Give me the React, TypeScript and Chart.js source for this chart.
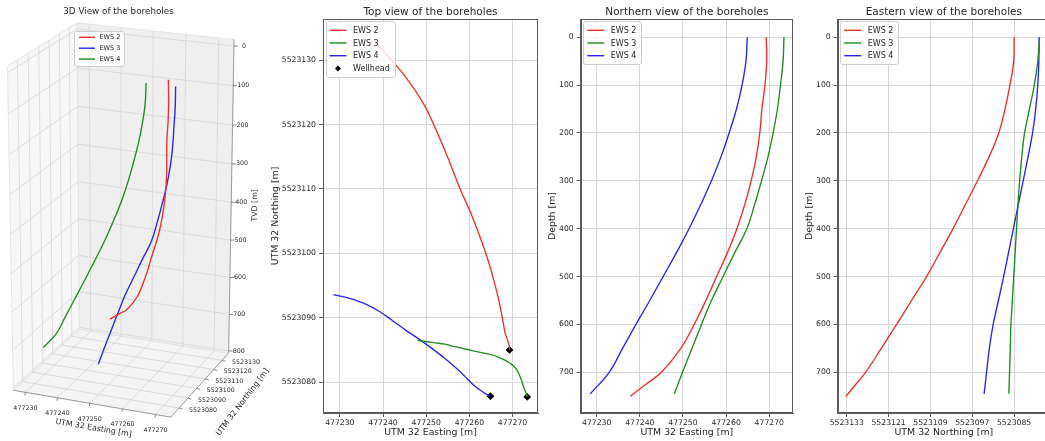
import React, { useEffect, useRef } from "react";
import { Chart, registerables } from "chart.js";

Chart.register(...registerables);

// ---------------- data ----------------
const wellNames = ["EWS 2", "EWS 3", "EWS 4"];

const ews2Depth = [0, 50, 100, 150, 200, 250, 300, 350, 400, 450, 500, 550, 600, 650, 700, 725, 750];
const ews2Easting = [477269.3, 477269.4, 477269.0, 477268.3, 477267.8, 477267.0, 477265.8, 477264.3, 477262.5, 477260.3, 477257.8, 477255.3, 477252.6, 477249.5, 477245.0, 477241.4, 477237.8];
const ews2Northing = [5523085.0, 5523085.1, 5523086.2, 5523087.6, 5523089.4, 5523092.2, 5523095.5, 5523099.0, 5523102.5, 5523106.3, 5523110.1, 5523114.4, 5523118.7, 5523123.1, 5523127.6, 5523130.4, 5523133.2];

const ews3Depth = [0, 50, 100, 150, 200, 250, 300, 350, 400, 450, 500, 550, 600, 650, 700, 745];
const ews3Easting = [477273.4, 477273.2, 477272.6, 477271.9, 477270.9, 477269.7, 477268.2, 477266.6, 477264.8, 477262.0, 477259.3, 477256.6, 477254.3, 477252.1, 477249.9, 477248.0];
const ews3Northing = [5523077.7, 5523078.2, 5523079.2, 5523080.6, 5523082.0, 5523082.8, 5523083.4, 5523083.9, 5523084.3, 5523084.7, 5523085.1, 5523085.5, 5523085.9, 5523086.1, 5523086.3, 5523086.5];

const ews4Depth = [0, 50, 100, 150, 200, 250, 300, 350, 400, 450, 500, 550, 600, 650, 700, 745];
const ews4Easting = [477264.9, 477264.6, 477263.7, 477262.4, 477260.7, 477258.8, 477256.6, 477254.1, 477251.4, 477248.5, 477245.4, 477242.3, 477239.1, 477236.0, 477232.9, 477228.5];
const ews4Northing = [5523077.8, 5523077.9, 5523078.2, 5523078.8, 5523079.7, 5523081.0, 5523082.4, 5523083.8, 5523085.2, 5523086.6, 5523088.0, 5523089.5, 5523091.0, 5523092.1, 5523092.9, 5523093.6];

const eastingTicks = [477230, 477240, 477250, 477260, 477270];
const northingTicks = [5523080, 5523090, 5523100, 5523110, 5523120, 5523130];
const depthTicks = [0, 100, 200, 300, 400, 500, 600, 700];
const northingTicksEastView = [5523133, 5523121, 5523109, 5523097, 5523085];
const tvdTicks3D = [0, 100, 200, 300, 400, 500, 600, 700, 800];

type Well = { name: string; depth: number[]; easting: number[]; northing: number[] };
const wells: Well[] = [
  { name: wellNames[0], depth: ews2Depth, easting: ews2Easting, northing: ews2Northing },
  { name: wellNames[1], depth: ews3Depth, easting: ews3Easting, northing: ews3Northing },
  { name: wellNames[2], depth: ews4Depth, easting: ews4Easting, northing: ews4Northing },
];

// ---------------- styles ----------------
const FONT = "'DejaVu Sans', 'Liberation Sans', sans-serif";
const TEXT = "#262626";
const GRID = "#d6d6d6";
const SPINE = "#5a5a5a";
const RED = "#e8302c";
const GREEN = "#1f8a1f";
const BLUE = "#2626e8";
const colors2D = [RED, GREEN, BLUE];
const colors3D = [RED, BLUE, GREEN];
const H = 441;

// ---------------- 3D view geometry ----------------
const E_LIM: [number, number] = [477226.2, 477274.6];
const N_LIM: [number, number] = [5523071, 5523138];
const Z_LIM: [number, number] = [-16, 806];
const VIEW3D = { elev: 20, azim: -68, dist: 10, aspect: [1, 1, 2], scale: 227, cx: 123, cy: 216 };

function project3D(e: number, n: number, d: number): [number, number] {
  const { elev, azim, dist, aspect, scale, cx, cy } = VIEW3D;
  const nrm = 1.8294640721620434 / Math.hypot(aspect[0], aspect[1], aspect[2]);
  const u = ((e - E_LIM[0]) / (E_LIM[1] - E_LIM[0]) - 0.5) * aspect[0] * nrm;
  const v = ((n - N_LIM[0]) / (N_LIM[1] - N_LIM[0]) - 0.5) * aspect[1] * nrm;
  const w = ((Z_LIM[1] - d) / (Z_LIM[1] - Z_LIM[0]) - 0.5) * aspect[2] * nrm;
  const el = (elev * Math.PI) / 180;
  const az = (azim * Math.PI) / 180;
  const se = Math.sin(el), ce = Math.cos(el), sa = Math.sin(az), ca = Math.cos(az);
  const x = -sa * u + ca * v;
  const y = -se * ca * u - se * sa * v + ce * w;
  const depth = ce * ca * u + ce * sa * v + se * w;
  const k = dist / (dist - depth);
  return [cx + scale * k * x, cy - scale * k * y];
}

function drawText(ctx: CanvasRenderingContext2D, s: string, x: number, y: number, size: number, align: CanvasTextAlign = "center", rot = 0) {
  ctx.save();
  ctx.translate(x, y);
  ctx.rotate(rot);
  ctx.font = `${size}px ${FONT}`;
  ctx.fillStyle = TEXT;
  ctx.textAlign = align;
  ctx.textBaseline = "middle";
  ctx.fillText(s, 0, 0);
  ctx.restore();
}

// ---------------- legend ----------------
type LegendCfg = { dx: number; dy: number; firstRow: number; rowStep: number; lineFrom: number; lineTo: number; textX: number; font: number; bottomPad: number; rightPad: number };

function drawLegend(chart: any, cfg: LegendCfg) {
  const ctx: CanvasRenderingContext2D = chart.ctx;
  const area = chart.chartArea;
  const items = chart.data.datasets.map((ds: any) => ({ label: ds.label, color: ds.borderColor, point: ds.showLine === false }));
  ctx.save();
  ctx.font = `${cfg.font}px ${FONT}`;
  const maxW = Math.max(...items.map((it: any) => ctx.measureText(it.label).width));
  const x0 = area.left + cfg.dx;
  const y0 = area.top + cfg.dy;
  const w = cfg.textX + maxW + cfg.rightPad;
  const h = cfg.firstRow + (items.length - 1) * cfg.rowStep + cfg.bottomPad;
  ctx.beginPath();
  ctx.roundRect(Math.round(x0) + 0.5, Math.round(y0) + 0.5, Math.round(w), Math.round(h), 2.5);
  ctx.fillStyle = "rgba(255,255,255,0.8)";
  ctx.fill();
  ctx.strokeStyle = "#cfcfcf";
  ctx.lineWidth = 1;
  ctx.stroke();
  items.forEach((it: any, i: number) => {
    const y = y0 + cfg.firstRow + i * cfg.rowStep;
    if (it.point) {
      const cx = x0 + (cfg.lineFrom + cfg.lineTo) / 2;
      const r = 3;
      ctx.beginPath();
      ctx.moveTo(cx - r, y);
      ctx.lineTo(cx, y - r);
      ctx.lineTo(cx + r, y);
      ctx.lineTo(cx, y + r);
      ctx.closePath();
      ctx.fillStyle = "#000";
      ctx.fill();
    } else {
      ctx.beginPath();
      ctx.moveTo(x0 + cfg.lineFrom, y);
      ctx.lineTo(x0 + cfg.lineTo, y);
      ctx.strokeStyle = it.color;
      ctx.lineWidth = 1.4;
      ctx.stroke();
    }
    ctx.fillStyle = TEXT;
    ctx.textAlign = "left";
    ctx.textBaseline = "middle";
    ctx.fillText(it.label, x0 + cfg.textX, y + 0.5);
  });
  ctx.restore();
}

const legend2D: LegendCfg = { dx: 2.5, dy: 1.5, firstRow: 9.8, rowStep: 12.7, lineFrom: 4, lineTo: 21, textX: 27.5, font: 8, bottomPad: 8, rightPad: 5 };
const legend3D: LegendCfg = { dx: 74, dy: 30.5, firstRow: 6.8, rowStep: 10.9, lineFrom: 5, lineTo: 21, textX: 25.5, font: 6.5, bottomPad: 6.2, rightPad: 4 };

const framedLegendPlugin = (cfg: LegendCfg) => ({
  id: "framedLegend",
  afterDatasetsDraw(chart: any) {
    const ctx: CanvasRenderingContext2D = chart.ctx;
    const a = chart.chartArea;
    ctx.save();
    ctx.strokeStyle = SPINE;
    ctx.lineWidth = 1;
    ctx.strokeRect(Math.round(a.left) + 0.5, Math.round(a.top) + 0.5, Math.round(a.right - a.left) - 1, Math.round(a.bottom - a.top) - 1);
    ctx.restore();
    drawLegend(chart, cfg);
  },
});

// ---------------- 2D panels ----------------
type Panel2D = {
  title: string;
  datasets: any[];
  xMin: number; xMax: number; yMin: number; yMax: number;
  xTicks: number[]; yTicks: number[];
  xReverse?: boolean; yReverse?: boolean;
  xTitle: string; yTitle: string;
  yAxisWidth: number; rightPad: number; yTitlePad: number;
};

function build2D(p: Panel2D): any {
  const tickFont = { family: FONT, size: 7.7 };
  const titleFont = { family: FONT, size: 9.4, lineHeight: 1.2 };
  return {
    type: "scatter",
    data: { datasets: p.datasets },
    options: {
      animation: false,
      responsive: false,
      devicePixelRatio: 1,
      events: [],
      layout: { padding: { left: 0, right: p.rightPad, top: 0, bottom: 0 }, autoPadding: false },
      plugins: {
        legend: { display: false },
        tooltip: { enabled: false },
        title: {
          display: true, text: p.title, fullSize: false, color: TEXT,
          font: { family: FONT, size: 10.5, weight: "normal", lineHeight: 1.2 },
          padding: { top: 5.5, bottom: 0.9 },
        },
      },
      scales: {
        x: {
          type: "linear", position: "bottom", min: p.xMin, max: p.xMax, reverse: !!p.xReverse,
          afterBuildTicks: (s: any) => { s.ticks = p.xTicks.map((v) => ({ value: v })); },
          afterFit: (s: any) => { s.height = 28; },
          ticks: { autoSkip: false, maxRotation: 0, minRotation: 0, padding: 1, color: TEXT, font: tickFont, callback: (v: any) => String(v) },
          grid: { color: GRID, lineWidth: 1, tickColor: SPINE, tickLength: 4, tickWidth: 1 },
          border: { color: SPINE, width: 1 },
          title: { display: true, text: p.xTitle, color: TEXT, font: titleFont, padding: { top: 0, bottom: 3 } },
        },
        y: {
          type: "linear", position: "left", min: p.yMin, max: p.yMax, reverse: !!p.yReverse,
          afterBuildTicks: (s: any) => { s.ticks = p.yTicks.map((v) => ({ value: v })); },
          afterFit: (s: any) => { s.width = p.yAxisWidth; },
          ticks: { autoSkip: false, padding: 3, color: TEXT, font: tickFont, callback: (v: any) => String(v) },
          grid: { color: GRID, lineWidth: 1, tickColor: SPINE, tickLength: 4, tickWidth: 1 },
          border: { color: SPINE, width: 1 },
          title: { display: true, text: p.yTitle, color: TEXT, font: titleFont, padding: { top: p.yTitlePad, bottom: 0 } },
        },
      },
    },
    plugins: [framedLegendPlugin(legend2D)],
  };
}

function lineDataset(label: string, color: string, data: { x: number; y: number }[]) {
  return { label, data, showLine: true, borderColor: color, backgroundColor: color, borderWidth: 1.35, pointRadius: 0, tension: 0.4, clip: false };
}

function topViewConfig() {
  const ds = wells.map((w, i) => lineDataset(w.name, colors2D[i], w.easting.map((e, j) => ({ x: e, y: w.northing[j] }))));
  ds.push({
    label: "Wellhead",
    data: wells.map((w) => ({ x: w.easting[0], y: w.northing[0] })),
    showLine: false, borderColor: "#000", backgroundColor: "#000", pointStyle: "rectRot", pointRadius: 3.4, borderWidth: 1, clip: false,
  } as any);
  return build2D({
    title: "Top view of the boreholes", datasets: ds,
    xMin: 477226.1, xMax: 477275.9, yMin: 5523075.2, yMax: 5523136.4,
    xTicks: eastingTicks, yTicks: northingTicks,
    xTitle: "UTM 32 Easting [m]", yTitle: "UTM 32 Northing [m]",
    yAxisWidth: 58, rightPad: 7, yTitlePad: 5,
  });
}

function northViewConfig() {
  const ds = wells.map((w, i) => lineDataset(w.name, colors2D[i], w.easting.map((e, j) => ({ x: e, y: w.depth[j] }))));
  return build2D({
    title: "Northern view of the boreholes", datasets: ds,
    xMin: 477226.3, xMax: 477275.5, yMin: -38, yMax: 785, yReverse: true,
    xTicks: eastingTicks, yTicks: depthTicks,
    xTitle: "UTM 32 Easting [m]", yTitle: "Depth [m]",
    yAxisWidth: 35.7, rightPad: 7, yTitlePad: 2.4,
  });
}

function eastViewConfig() {
  const ds = wells.map((w, i) => lineDataset(w.name, colors2D[i], w.northing.map((n, j) => ({ x: n, y: w.depth[j] }))));
  return build2D({
    title: "Eastern view of the boreholes", datasets: ds,
    xMin: 5523074.7, xMax: 5523135.6, xReverse: true, yMin: -38, yMax: 785, yReverse: true,
    xTicks: northingTicksEastView, yTicks: depthTicks,
    xTitle: "UTM 32 Northing [m]", yTitle: "Depth [m]",
    yAxisWidth: 37.7, rightPad: 10, yTitlePad: 3.7,
  });
}

// ---------------- 3D panel ----------------
const box3DPlugin = {
  id: "box3d",
  beforeDatasetsDraw(chart: any) {
    const ctx: CanvasRenderingContext2D = chart.ctx;
    const sx = chart.scales.x, sy = chart.scales.y;
    const P = (e: number, n: number, d: number): [number, number] => {
      const [x, y] = project3D(e, n, d);
      return [sx.getPixelForValue(x), sy.getPixelForValue(y)];
    };
    const [E0, E1] = E_LIM, [N0, N1] = N_LIM, [Z0, Z1] = Z_LIM;
    const poly = (pts: [number, number][], fill: string, stroke: string) => {
      ctx.beginPath();
      pts.forEach((p, i) => (i ? ctx.lineTo(p[0], p[1]) : ctx.moveTo(p[0], p[1])));
      ctx.closePath();
      ctx.fillStyle = fill;
      ctx.fill();
      ctx.strokeStyle = stroke;
      ctx.lineWidth = 0.8;
      ctx.stroke();
    };
    const seg = (a: [number, number], b: [number, number], color: string, lw = 0.8) => {
      ctx.beginPath();
      ctx.moveTo(a[0], a[1]);
      ctx.lineTo(b[0], b[1]);
      ctx.strokeStyle = color;
      ctx.lineWidth = lw;
      ctx.stroke();
    };
    ctx.save();
    // panes
    poly([P(E0, N0, Z1), P(E1, N0, Z1), P(E1, N1, Z1), P(E0, N1, Z1)], "#f4f4f4", "#e0e0e0");
    poly([P(E0, N0, Z0), P(E0, N1, Z0), P(E0, N1, Z1), P(E0, N0, Z1)], "#f7f7f7", "#e0e0e0");
    poly([P(E0, N1, Z0), P(E1, N1, Z0), P(E1, N1, Z1), P(E0, N1, Z1)], "#efefef", "#e0e0e0");
    // grid
    const g = "#d6d6d6";
    eastingTicks.forEach((e) => { seg(P(e, N0, Z1), P(e, N1, Z1), g); seg(P(e, N1, Z1), P(e, N1, Z0), g); });
    northingTicks.forEach((n) => { seg(P(E0, n, Z1), P(E1, n, Z1), g); seg(P(E0, n, Z1), P(E0, n, Z0), g); });
    tvdTicks3D.forEach((z) => { seg(P(E0, N0, z), P(E0, N1, z), g); seg(P(E0, N1, z), P(E1, N1, z), g); });
    // axis lines
    const ax = "#8a8a8a";
    seg(P(E0, N0, Z1), P(E1, N0, Z1), ax);
    seg(P(E1, N0, Z1), P(E1, N1, Z1), ax);
    seg(P(E1, N1, Z0), P(E1, N1, Z1), ax);
    ctx.restore();
  },
  afterDatasetsDraw(chart: any) {
    const ctx: CanvasRenderingContext2D = chart.ctx;
    const sx = chart.scales.x, sy = chart.scales.y;
    const P = (e: number, n: number, d: number): [number, number] => {
      const [x, y] = project3D(e, n, d);
      return [sx.getPixelForValue(x), sy.getPixelForValue(y)];
    };
    const [E0, E1] = E_LIM, [N0, N1] = N_LIM, [Z0, Z1] = Z_LIM;
    ctx.save();
    ctx.strokeStyle = "#6a6a6a";
    ctx.lineWidth = 0.8;
    const tick = (p: [number, number], dx: number, dy: number) => {
      ctx.beginPath();
      ctx.moveTo(p[0], p[1]);
      ctx.lineTo(p[0] + dx, p[1] + dy);
      ctx.stroke();
    };
    eastingTicks.forEach((e) => {
      const p = P(e, N0, Z1);
      tick(p, -0.5, 3);
      drawText(ctx, String(e), p[0], p[1] + 16, 6.3);
    });
    northingTicks.forEach((n) => {
      const p = P(E1, n, Z1);
      tick(p, 3.5, 1);
      drawText(ctx, String(n), p[0] + 24, p[1] + 2, 6.3);
    });
    tvdTicks3D.forEach((z) => {
      const p = P(E1, N1, z);
      tick(p, 4, 0);
      drawText(ctx, String(z), p[0] + 10, p[1], 6.3);
    });
    // axis titles
    const l = P(E0, N0, Z1), f = P(E1, N0, Z1), r = P(E1, N1, Z1), rt = P(E1, N1, Z0);
    drawText(ctx, "UTM 32 Easting [m]", (l[0] + f[0]) / 2 + 1.5, (l[1] + f[1]) / 2 + 24.5, 7.8, "center", Math.atan2(f[1] - l[1], f[0] - l[0]));
    drawText(ctx, "UTM 32 Northing [m]", (f[0] + r[0]) / 2 + 43, (f[1] + r[1]) / 2 + 17, 7.8, "center", -0.92);
    drawText(ctx, "TVD [m]", (r[0] + rt[0]) / 2 + 24, (r[1] + rt[1]) / 2 + 9, 7.8, "center", -Math.PI / 2);
    // title
    drawText(ctx, "3D View of the boreholes", 118.5, 11.5, 8.8);
    ctx.restore();
    drawLegend(chart, legend3D);
  },
};

function view3DConfig(): any {
  const ds = wells.map((w, i) =>
    lineDataset(w.name, colors3D[i], w.depth.map((d, j) => {
      const [x, y] = project3D(w.easting[j], w.northing[j], d);
      return { x, y };
    }))
  );
  return {
    type: "scatter",
    data: { datasets: ds },
    options: {
      animation: false,
      responsive: false,
      devicePixelRatio: 1,
      events: [],
      layout: { padding: 0, autoPadding: false },
      plugins: { legend: { display: false }, tooltip: { enabled: false }, title: { display: false } },
      scales: {
        x: { type: "linear", min: 0, max: 280, display: false },
        y: { type: "linear", min: 0, max: H, reverse: true, display: false },
      },
    },
    plugins: [box3DPlugin],
  };
}

// ---------------- components ----------------
function ChartCanvas({ left, width, build }: { left: number; width: number; build: () => any }) {
  const ref = useRef<HTMLCanvasElement>(null);
  useEffect(() => {
    const chart = new Chart(ref.current as HTMLCanvasElement, build());
    return () => chart.destroy();
  }, []);
  return (
    <canvas
      ref={ref}
      width={width}
      height={H}
      style={{ position: "absolute", left, top: 0, width, height: H, display: "block" }}
    />
  );
}

export default function App() {
  return (
    <div style={{ position: "fixed", left: 0, top: 0, width: 1045, height: H, overflow: "hidden", background: "#fff" }}>
      <ChartCanvas left={0} width={280} build={view3DConfig} />
      <ChartCanvas left={265} width={280} build={topViewConfig} />
      <ChartCanvas left={545} width={255} build={northViewConfig} />
      <ChartCanvas left={800} width={260} build={eastViewConfig} />
    </div>
  );
}
